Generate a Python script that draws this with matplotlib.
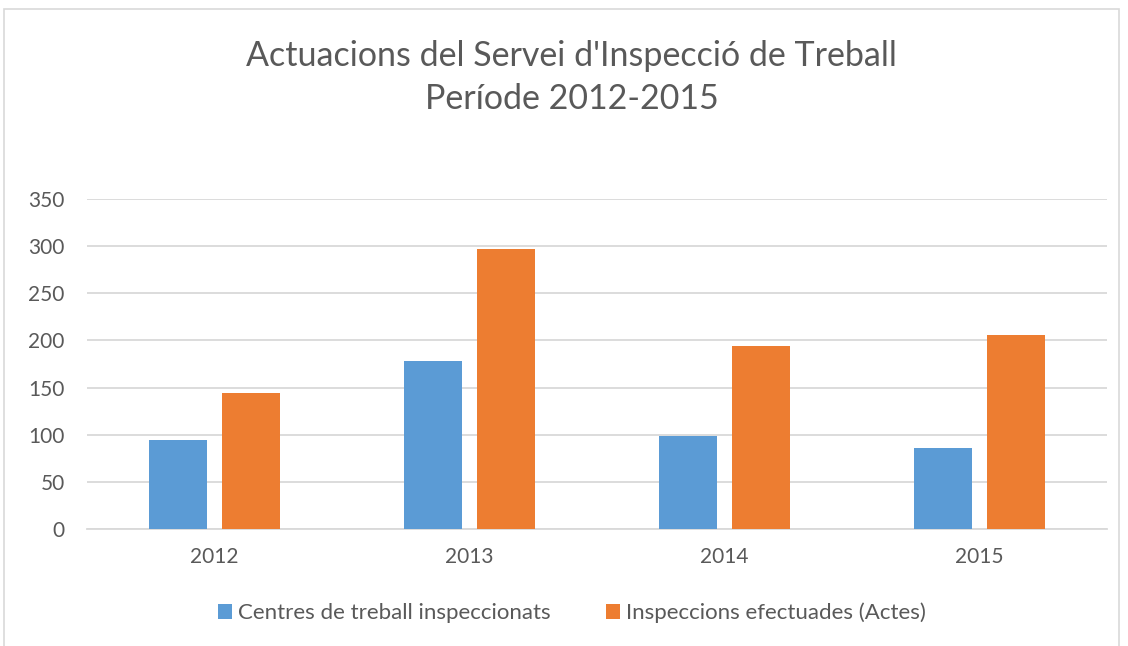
import numpy as np
import matplotlib.pyplot as plt
from matplotlib.patches import Rectangle

years = ['2012', '2013', '2014', '2015']
centres = [94, 178, 99, 86]
inspeccions = [144, 297, 194, 206]
series_names = ['Centres de treball inspeccionats', 'Inspeccions efectuades (Actes)']
yticks = [0, 50, 100, 150, 200, 250, 300, 350]

BLUE = '#5B9BD5'
ORANGE = '#ED7D31'
GRID = '#D9D9D9'
TXT = '#595959'

plt.rcParams['font.family'] = ['Lato', 'DejaVu Sans']


def bar_plot(out_file):
    fig = plt.figure(figsize=(11.28, 6.46), dpi=100)
    ax = fig.add_axes([0.0771, 0.1811, 0.9043, 0.5108])

    x = np.arange(len(years))
    w = 0.224
    ax.bar(x - 0.143, centres, w, color=BLUE, label=series_names[0], zorder=3)
    ax.bar(x + 0.143, inspeccions, w, color=ORANGE, label=series_names[1], zorder=3)

    ax.set_xlim(-0.5, len(years) - 0.5)
    ax.set_ylim(0, 350)
    ax.set_yticks(yticks)
    ax.set_xticks(x)
    ax.set_xticklabels(years)
    ax.yaxis.grid(True, color=GRID, linewidth=1.3, zorder=0)
    ax.tick_params(length=0, labelsize=15, colors=TXT)
    ax.tick_params(axis='x', pad=13)
    ax.tick_params(axis='y', pad=16)
    for s in ['top', 'right', 'left']:
        ax.spines[s].set_visible(False)
    ax.spines['bottom'].set_color(GRID)
    ax.spines['bottom'].set_linewidth(1.3)

    fig.text(0.507, 0.88, "Actuacions del Servei d'Inspecció de Treball\nPeríode 2012-2015",
             ha='center', va='center', fontsize=24.5, color=TXT, linespacing=1.45)

    ax.legend(loc='center', bbox_to_anchor=(0.507, 0.051), bbox_transform=fig.transFigure,
              ncol=2, frameon=False, handlelength=0.63, handleheight=0.63,
              handletextpad=0.25, columnspacing=2.5, fontsize=16, labelcolor=TXT)

    # chart frame
    fig.patches.append(Rectangle((4 / 1128, -0.05), 1115 / 1128, 1 - 9 / 646 + 0.05,
                                 transform=fig.transFigure, fill=False,
                                 edgecolor=GRID, linewidth=1.2))

    fig.savefig(out_file)


def main():
    bar_plot('out.png')


if __name__ == '__main__':
    main()
